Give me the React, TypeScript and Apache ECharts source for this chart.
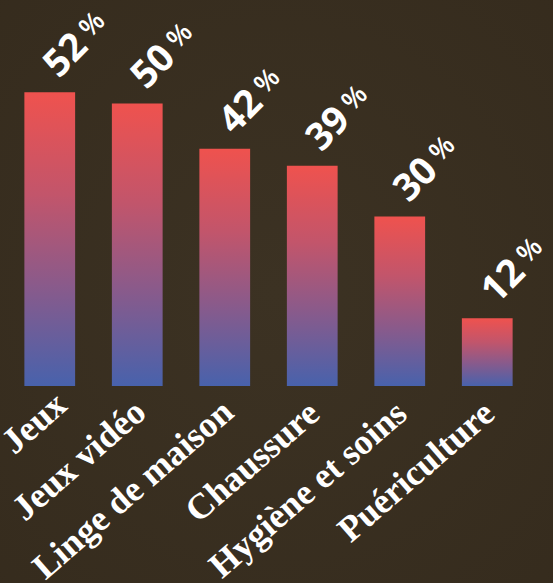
import React, { useEffect, useRef } from "react";
import * as echarts from "echarts";

const categories = ["Jeux", "Jeux vidéo", "Linge de maison", "Chaussure", "Hygiène et soins", "Puériculture"];
const values = [52, 50, 42, 39, 30, 12];
// extra shift of each category label along its baseline (px)
const labelShift = [-15, -4, -4, -2, -2, -2];

export default function App() {
  const ref = useRef<HTMLDivElement>(null);
  useEffect(() => {
    const chart = echarts.init(ref.current!, null, { renderer: "svg" });
    chart.setOption({
      animation: false,
      backgroundColor: {
        type: "radial",
        x: 0.5,
        y: 0.5,
        r: 0.8,
        colorStops: [
          { offset: 0, color: "#3c3223" },
          { offset: 1, color: "#352b1d" },
        ],
      },
      grid: { left: 6, right: 22, top: 47, bottom: 197, containLabel: false, outerBoundsMode: "none" },
      xAxis: {
        type: "category",
        data: categories.map((c, i) => ({ value: c, textStyle: { padding: [0, labelShift[i], 0, 0] } })),
        axisLine: { show: false },
        axisTick: { show: false },
        axisLabel: {
          interval: 0,
          rotate: 41,
          margin: 23,
          color: "#ffffff",
          fontFamily: "'Liberation Serif', serif",
          fontWeight: "bold",
          fontSize: 36,
        },
      },
      yAxis: { type: "value", min: 0, max: 60, show: false },
      series: [
        {
          type: "bar",
          data: values,
          barCategoryGap: "42%",
          itemStyle: {
            color: new echarts.graphic.LinearGradient(0, 0, 0, 1, [
              { offset: 0, color: "#ef524e" },
              { offset: 0.35, color: "#c2556b" },
              { offset: 0.65, color: "#8b5a8a" },
              { offset: 1, color: "#4862ac" },
            ]),
          },
          label: {
            show: true,
            position: "top",
            distance: 25,
            rotate: 45,
            align: "left",
            verticalAlign: "middle",
            offset: [-2, 0],
            formatter: (p: any) => `{n|${p.value}}{p|%}`,
            rich: {
              n: { fontFamily: "'Open Sans', sans-serif", fontWeight: "bold", fontSize: 38, color: "#ffffff", padding: [0, 7, 0, 0] },
              p: { fontFamily: "'Open Sans', sans-serif", fontWeight: 600, fontSize: 27, color: "#ffffff", padding: [0, 0, 4, 0] },
            },
          },
        },
      ],
    });
    return () => chart.dispose();
  }, []);
  return <div ref={ref} style={{ position: "absolute", left: 0, top: 0, width: 553, height: 583 }} />;
}
